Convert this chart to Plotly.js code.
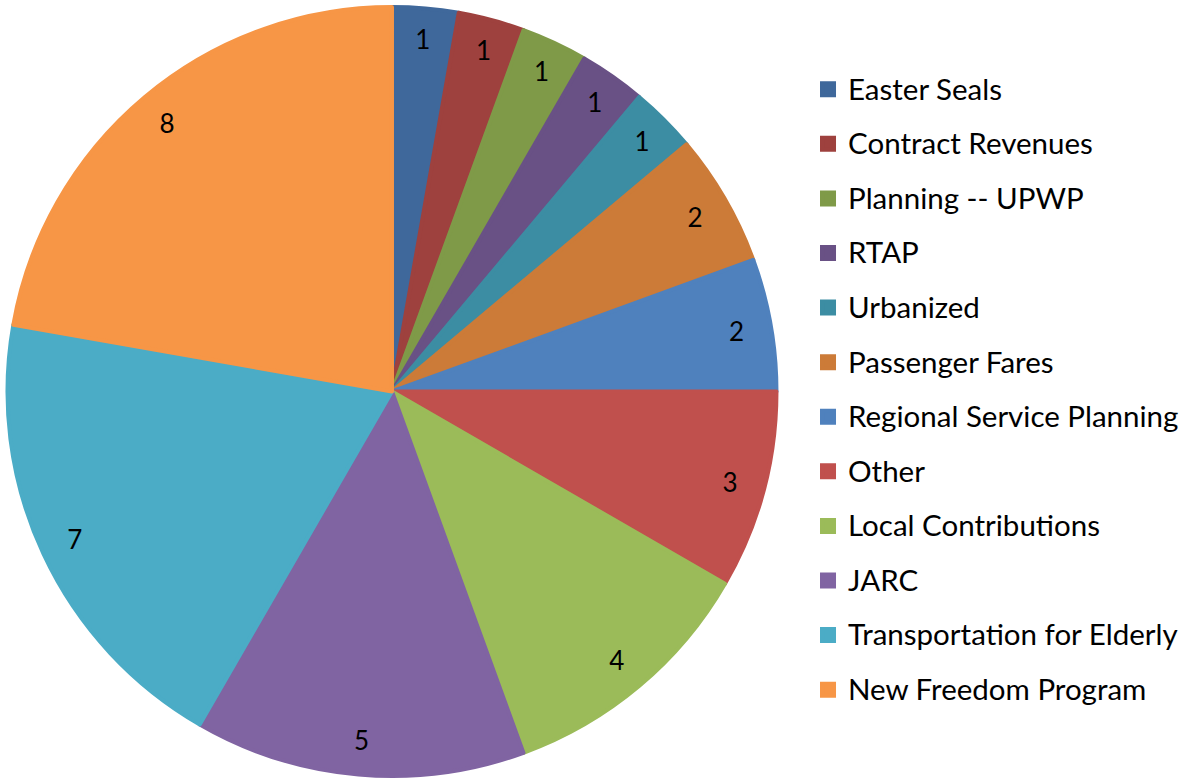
<!DOCTYPE html>
<html><head><meta charset="utf-8">
<script src="https://cdn.plot.ly/plotly-3.0.1.min.js"></script>
<style>html,body{margin:0;padding:0;background:#fff}#chart{width:1190px;height:779px}</style>
</head><body><div id="chart"></div>
<script>
var categories = ["Easter Seals","Contract Revenues","Planning -- UPWP","RTAP","Urbanized","Passenger Fares","Regional Service Planning","Other","Local Contributions","JARC","Transportation for Elderly","New Freedom Program"];
var values = [1,1,1,1,1,2,2,3,4,5,7,8];
var colors = ["#3F689B","#9E413E","#7F9A48","#695185","#3C8DA3","#CC7B38","#4F81BD","#C0504D","#9BBB59","#8064A2","#4BACC6","#F79646"];

var FONT = "Lato, 'Noto Sans', sans-serif";
var legendLabels = categories.map(function(c){
  return "<br><br><span style='font-size:29.5px'>" + c + "</span><br>";
});

var pieMain = {
  type: "pie", labels: legendLabels, values: values, sort: false,
  direction: "clockwise", rotation: 0,
  marker: {colors: colors, line: {color: colors, width: 4}},
  textinfo: "none", hoverinfo: "none",
  domain: {x: [0, 0.6588], y: [0, 1]}
};
var pieText = {
  type: "pie", labels: categories, values: values, sort: false,
  direction: "clockwise", rotation: 0, hole: 0.82,
  marker: {colors: values.map(function(){return "rgba(0,0,0,0)";}), line: {width: 0}},
  textinfo: "value", textposition: "inside", insidetextorientation: "horizontal",
  textfont: {family: FONT, size: 26, color: "#000"},
  showlegend: false, hoverinfo: "none",
  domain: {x: [0, 0.6588], y: [0, 1]}
};
var layout = {
  width: 1190, height: 779,
  margin: {l: 0, r: 0, t: 7, b: 3},
  paper_bgcolor: "#fff",
  showlegend: true,
  legend: {x: 0.679, xanchor: "left", y: 0.935, yanchor: "top", maxheight: 760,
           font: {family: FONT, size: 9.92, color: "#000"},
           bgcolor: "rgba(0,0,0,0)", itemclick: false}
};
Plotly.newPlot("chart", [pieMain, pieText], layout, {displayModeBar: false, staticPlot: true});
</script></body></html>
